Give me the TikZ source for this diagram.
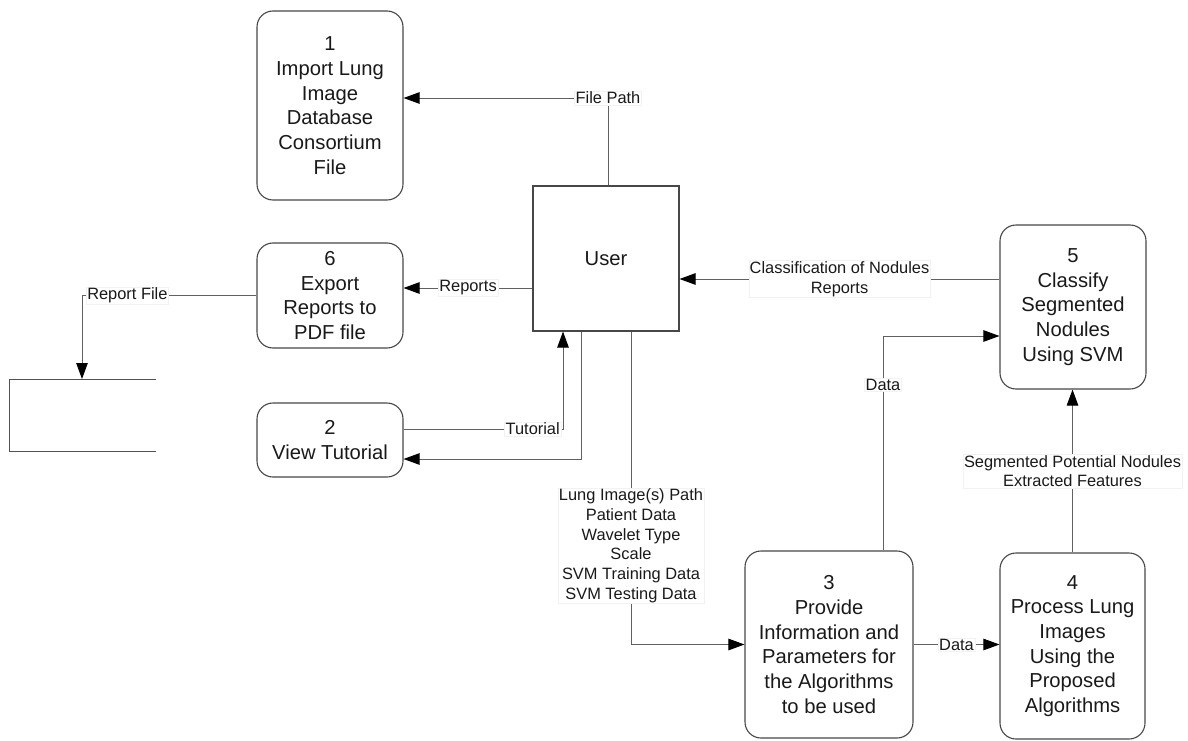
\documentclass[tikz,border=0pt]{standalone}
\usepackage{fontspec}
\setmainfont{Liberation Sans}
\usetikzlibrary{arrows.meta}
\newcommand\procfont{\fontsize{20.2}{24.7}\selectfont}
\newcommand\flowfont{\fontsize{16.4}{19.7}\selectfont}
\begin{document}
\begin{tikzpicture}[x=1pt,y=-1pt,
  proc/.style={draw=black!72, line width=1.1pt, rounded corners=16pt, align=center,
    font=\procfont, inner sep=0pt, text=black!90},
  entity/.style={draw=black!72, line width=1.1pt, align=center, font=\procfont,
    inner sep=0pt, text=black!90},
  store/.style={draw=black!68, line width=1pt},
  flow/.style={draw=black!62, line width=0.9pt,
    -{Triangle[length=16pt,width=11.5pt,color=black,fill=black]}},
  lbl/.style={fill=white, draw=black!5, line width=0.4pt, inner xsep=1pt, inner ysep=1pt,
    font=\flowfont, align=center, text=black!90}]
\useasboundingbox[fill=white] (0,0) rectangle (1188,741);

% processes and external entity
\node[proc, minimum width=146pt, minimum height=189pt] (p1) at (330,105.5)
  {1\\Import Lung\\Image\\Database\\Consortium\\File};
\node[proc, minimum width=146pt, minimum height=105pt] (p6) at (330,295.5)
  {6\\Export\\Reports to\\PDF file};
\node[proc, minimum width=146pt, minimum height=74pt] (p2) at (330,440)
  {2\\View Tutorial};
\node[entity, minimum width=146pt, minimum height=145pt] (user) at (606,258.5) {User};
\node[proc, minimum width=146pt, minimum height=164pt] (p5) at (1073,307)
  {5\\Classify\\Segmented\\Nodules\\Using SVM};
\node[proc, minimum width=168pt, minimum height=187pt] (p3) at (829,644.5)
  {3\\Provide\\Information and\\Parameters for\\the Algorithms\\to be used};
\node[proc, minimum width=145pt, minimum height=186pt] (p4) at (1072.5,646)
  {4\\Process Lung\\Images\\Using the\\Proposed\\Algorithms};

% data store
\draw[store] (156,379) -- (9,379) -- (9,451) -- (156,451);
\coordinate (stTop) at (82,379);

% data flows
\draw[flow] ([xshift=2pt]user.north) |- (p1.east |- 0,98)
  node[lbl, pos=0.5] {File Path};
\draw[flow] (user.west |- 0,288) -- (p6.east |- 0,288)
  node[lbl, midway] {Reports};
\draw[flow] (p6.west) -| (stTop)
  node[lbl, pos=0.37] {Report File};
\draw[flow] (p2.east |- 0,429) -| (user.south -| 563,0)
  node[lbl, pos=0.405] {Tutorial};
\draw[flow] (user.south -| 581,0) |- (p2.east |- 0,459);
\draw[flow] (user.south -| 631,0) |- (p3.west)
  node[lbl, pos=0.342] {Lung Image(s) Path\\Patient Data\\Wavelet Type\\Scale\\SVM Training Data\\SVM Testing Data};
\draw[flow] (p3.east) -- (p4.west |- p3.east)
  node[lbl, midway] {Data};
\draw[flow] (p3.north -| 883,0) |- (p5.west |- 0,336)
  node[lbl, pos=0.386] {Data};
\draw[flow] (p4.north) -- (p4.north |- p5.south)
  node[lbl, midway] {Segmented Potential Nodules\\Extracted Features};
\draw[flow] (p5.west |- 0,279) -- (user.east |- 0,279)
  node[lbl, midway] {Classification of Nodules\\Reports};
\end{tikzpicture}
\end{document}
